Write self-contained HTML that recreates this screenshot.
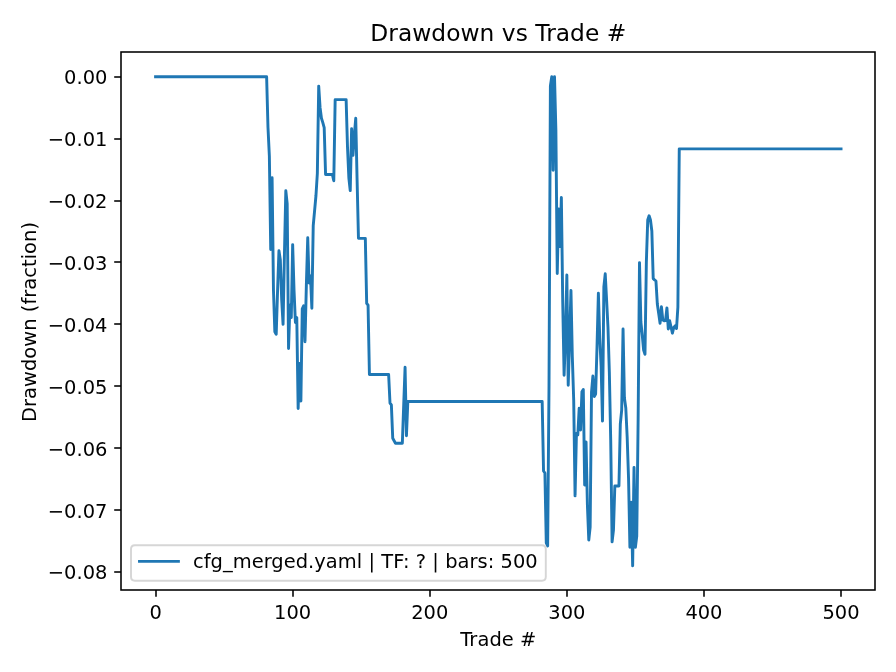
<!DOCTYPE html>
<html lang="en"><head><meta charset="utf-8"><title>Drawdown vs Trade #</title>
<style>html,body{margin:0;padding:0;background:#fff;overflow:hidden}svg{display:block;will-change:transform;opacity:0.999}text{font-family:'DejaVu Sans','Liberation Sans',sans-serif;fill:#000}</style></head><body>
<svg width="896" height="672" viewBox="0 0 896 672">
<rect x="0" y="0" width="896" height="672" fill="#ffffff"/>
<clipPath id="ax"><rect x="121" y="52" width="754" height="538"/></clipPath>
<path clip-path="url(#ax)" d="M155.57 76.75 L266.62 76.75 L267.99 127.52 L269.36 156.00 L270.73 249.42 L272.10 177.73 L273.47 290.34 L274.84 331.82 L276.21 334.30 L277.58 290.34 L278.95 250.72 L280.33 260.01 L281.70 300.00 L283.07 324.33 L284.44 254.00 L285.81 190.73 L287.18 203.67 L288.55 348.48 L289.92 305.20 L291.29 317.59 L292.66 244.59 L294.03 290.34 L295.41 322.54 L296.78 317.59 L298.15 408.53 L299.52 363.46 L300.89 401.10 L302.26 308.92 L303.63 305.82 L305.00 341.67 L306.37 284.77 L307.74 237.78 L309.11 282.98 L310.49 275.92 L311.86 308.24 L313.23 225.52 L314.60 210.60 L315.97 195.50 L317.34 173.52 L318.71 86.10 L320.08 107.71 L321.45 118.23 L322.82 122.57 L324.19 127.52 L325.57 174.57 L332.42 174.57 L333.79 180.76 L335.16 99.66 L346.13 99.66 L347.50 147.02 L348.87 177.98 L350.24 190.61 L351.61 128.82 L352.98 155.32 L354.35 134.95 L355.73 118.30 L357.10 180.14 L358.47 238.34 L365.32 238.34 L366.69 303.35 L368.06 305.20 L369.43 374.54 L388.63 374.54 L390.00 403.02 L391.37 404.88 L392.74 438.31 L394.11 440.79 L395.48 443.26 L402.34 443.26 L403.71 404.88 L405.08 367.18 L406.45 435.77 L407.82 401.47 L542.17 401.47 L543.54 471.00 L544.91 472.98 L546.28 542.94 L547.65 546.03 L549.02 385.01 L550.39 85.98 L551.77 76.75 L553.14 170.24 L554.51 76.75 L555.88 130.00 L557.25 273.51 L558.62 208.99 L559.99 246.51 L561.36 197.48 L562.73 301.98 L564.10 375.29 L565.47 337.03 L566.85 274.93 L568.22 385.32 L569.59 339.87 L570.96 290.53 L572.33 357.02 L573.70 399.99 L575.07 495.89 L576.44 433.48 L577.81 435.03 L579.18 408.28 L580.55 430.01 L581.93 391.75 L583.30 389.53 L584.67 484.99 L586.04 441.90 L587.41 504.99 L588.78 540.03 L590.15 527.03 L591.52 392.00 L592.89 376.03 L594.26 396.52 L595.63 393.98 L597.01 346.99 L598.38 293.32 L599.75 338.02 L601.12 366.00 L602.49 421.10 L603.86 287.00 L605.23 273.81 L606.60 300.00 L607.97 327.00 L609.34 372.00 L610.71 439.98 L612.09 541.89 L613.46 530.00 L614.83 485.98 L618.94 485.98 L620.31 424.01 L621.68 410.02 L623.05 328.91 L624.42 398.01 L625.79 408.04 L627.17 437.01 L628.54 477.99 L629.91 547.33 L631.28 502.33 L632.65 565.85 L634.02 467.53 L635.39 547.33 L636.76 536.00 L638.13 419.98 L639.50 262.61 L640.87 321.98 L642.25 334.98 L643.62 350.03 L644.99 354.30 L646.36 261.99 L647.73 220.01 L649.10 215.80 L650.47 220.01 L651.84 231.03 L653.21 278.58 L654.58 279.82 L655.95 281.00 L657.33 304.03 L658.70 313.62 L660.07 323.22 L661.44 306.81 L662.81 320.00 L664.18 320.80 L665.55 320.62 L666.92 307.93 L668.29 328.98 L669.66 320.80 L671.03 327.00 L672.41 333.19 L673.78 327.49 L675.15 325.82 L676.52 328.48 L677.89 307.00 L679.26 148.88 L841.03 148.88" fill="none" stroke="#1f77b4" stroke-width="2.917" stroke-linejoin="round" stroke-linecap="square"/>
<rect x="121" y="52" width="754" height="538" fill="none" stroke="#000" stroke-width="1.556" stroke-linejoin="miter"/>
<line x1="156" y1="590" x2="156" y2="596.806" stroke="#000" stroke-width="1.556"/>
<text x="155.57" y="619.40" font-size="19.444" text-anchor="middle">0</text>
<line x1="293" y1="590" x2="293" y2="596.806" stroke="#000" stroke-width="1.556"/>
<text x="292.66" y="619.40" font-size="19.444" text-anchor="middle">100</text>
<line x1="430" y1="590" x2="430" y2="596.806" stroke="#000" stroke-width="1.556"/>
<text x="429.75" y="619.40" font-size="19.444" text-anchor="middle">200</text>
<line x1="567" y1="590" x2="567" y2="596.806" stroke="#000" stroke-width="1.556"/>
<text x="566.85" y="619.40" font-size="19.444" text-anchor="middle">300</text>
<line x1="704" y1="590" x2="704" y2="596.806" stroke="#000" stroke-width="1.556"/>
<text x="703.94" y="619.40" font-size="19.444" text-anchor="middle">400</text>
<line x1="841" y1="590" x2="841" y2="596.806" stroke="#000" stroke-width="1.556"/>
<text x="841.03" y="619.40" font-size="19.444" text-anchor="middle">500</text>
<line x1="114.194" y1="77" x2="121" y2="77" stroke="#000" stroke-width="1.556"/>
<text x="107.39" y="84.14" font-size="19.444" text-anchor="end">0.00</text>
<line x1="114.194" y1="139" x2="121" y2="139" stroke="#000" stroke-width="1.556"/>
<text x="107.39" y="146.05" font-size="19.444" text-anchor="end">−0.01</text>
<line x1="114.194" y1="201" x2="121" y2="201" stroke="#000" stroke-width="1.556"/>
<text x="107.39" y="207.96" font-size="19.444" text-anchor="end">−0.02</text>
<line x1="114.194" y1="262" x2="121" y2="262" stroke="#000" stroke-width="1.556"/>
<text x="107.39" y="269.87" font-size="19.444" text-anchor="end">−0.03</text>
<line x1="114.194" y1="324" x2="121" y2="324" stroke="#000" stroke-width="1.556"/>
<text x="107.39" y="331.78" font-size="19.444" text-anchor="end">−0.04</text>
<line x1="114.194" y1="386" x2="121" y2="386" stroke="#000" stroke-width="1.556"/>
<text x="107.39" y="393.69" font-size="19.444" text-anchor="end">−0.05</text>
<line x1="114.194" y1="448" x2="121" y2="448" stroke="#000" stroke-width="1.556"/>
<text x="107.39" y="455.60" font-size="19.444" text-anchor="end">−0.06</text>
<line x1="114.194" y1="510" x2="121" y2="510" stroke="#000" stroke-width="1.556"/>
<text x="107.39" y="517.51" font-size="19.444" text-anchor="end">−0.07</text>
<line x1="114.194" y1="572" x2="121" y2="572" stroke="#000" stroke-width="1.556"/>
<text x="107.39" y="579.42" font-size="19.444" text-anchor="end">−0.08</text>
<text x="498.30" y="645.99" font-size="19.444" text-anchor="middle" textLength="76.1">Trade #</text>
<text transform="translate(35.98 322.00) rotate(-90)" font-size="19.444" text-anchor="middle" textLength="200">Drawdown (fraction)</text>
<text x="498.30" y="41.33" font-size="23.333" text-anchor="middle" textLength="255.9">Drawdown vs Trade #</text>
<path d="M 134.89 580.70 L 541.91 580.70 Q 545.80 580.70 545.80 576.81 L 545.80 549.09 Q 545.80 545.20 541.91 545.20 L 134.89 545.20 Q 131.00 545.20 131.00 549.09 L 131.00 576.81 Q 131.00 580.70 134.89 580.70 Z" fill="#ffffff" fill-opacity="0.8" stroke="#cccccc" stroke-opacity="0.8" stroke-width="1.944" stroke-linejoin="miter"/>
<line x1="139.50" y1="561.40" x2="178.40" y2="561.40" stroke="#1f77b4" stroke-width="2.917" stroke-linecap="square"/>
<text x="192.94" y="567.92" font-size="19.444" text-anchor="start" textLength="344.75">cfg_merged.yaml | TF: ? | bars: 500</text>
</svg></body></html>
